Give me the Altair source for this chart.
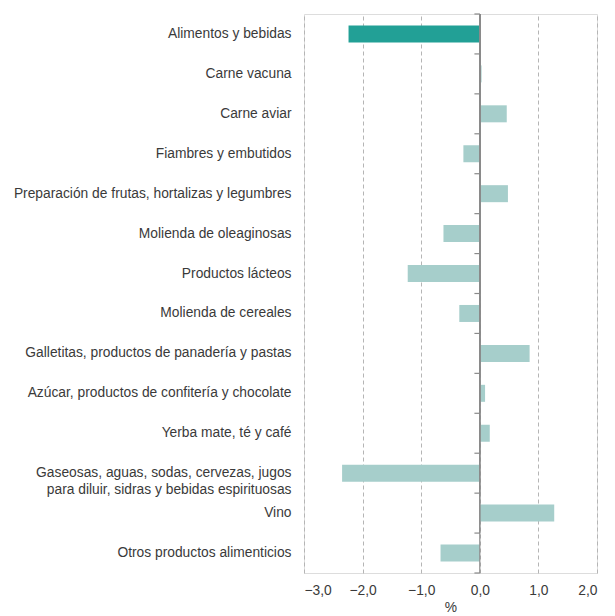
import altair as alt
import pandas as pd

categories = [
    "Alimentos y bebidas",
    "Carne vacuna",
    "Carne aviar",
    "Fiambres y embutidos",
    "Preparación de frutas, hortalizas y legumbres",
    "Molienda de oleaginosas",
    "Productos lácteos",
    "Molienda de cereales",
    "Galletitas, productos de panadería y pastas",
    "Azúcar, productos de confitería y chocolate",
    "Yerba mate, té y café",
    "Gaseosas, aguas, sodas, cervezas, jugos|para diluir, sidras y bebidas espirituosas",
    "Vino",
    "Otros productos alimenticios",
]
values = [-2.24, 0.03, 0.46, -0.28, 0.48, -0.62, -1.23, -0.35, 0.85, 0.09, 0.17, -2.35, 1.27, -0.67]
highlight = [True] + [False] * 13
x_ticks = [-3, -2, -1, 0, 1, 2]

df = pd.DataFrame({"cat": categories, "val": values, "hl": highlight})
n = len(categories)
bdf = pd.DataFrame({"b": list(range(n + 1))})
bdf["z0"] = 0.0
bdf["zm"] = -0.045

FONT = "Liberation Sans"
TXT = "#3a3a3a"
FS = 13.8

y_enc = alt.Y(
    "cat:N",
    sort=None,
    scale=alt.Scale(paddingInner=0, paddingOuter=0),
    axis=alt.Axis(
        title=None, domain=False, ticks=False, grid=False,
        labelExpr="split(datum.label, '|')",
        labelFontSize=FS, labelColor=TXT, labelFont=FONT,
        labelPadding=13, labelLimit=400, labelLineHeight=17,
    ),
)
x_scale = alt.Scale(domain=[-3, 2], nice=False)
x_enc = alt.X(
    "val:Q",
    scale=x_scale,
    axis=alt.Axis(
        values=x_ticks, title="%", grid=True, gridDash=[4, 3], gridColor="#b5b5b5",
        gridWidth=1, domain=False, ticks=False,
        labelExpr="replace(format(datum.value, '.1f'), '.', ',')",
        labelFontSize=FS, labelColor=TXT, labelFont=FONT, labelPadding=10,
        titleFont=FONT, titleFontSize=FS, titleColor=TXT, titleFontWeight="normal",
        titlePadding=4,
    ),
)

bars = alt.Chart(df).mark_bar(height=17).encode(
    y=y_enc,
    x=x_enc,
    color=alt.condition("datum.hl", alt.value("#22a096"), alt.value("#a6cecb")),
)

bscale = alt.Scale(domain=[0, n], reverse=True, nice=False, zero=False)

zero = alt.Chart(bdf).mark_rule(color="#8a8a8a", strokeWidth=1.2).encode(
    x=alt.X("z0:Q", scale=x_scale),
    y=alt.Y("b:Q", scale=bscale, axis=None),
    y2=alt.value(0),
)

bticks = alt.Chart(bdf).mark_tick(
    color="#8a8a8a", orient="horizontal", size=5.5, thickness=1.2, opacity=1
).encode(
    y=alt.Y("b:Q", scale=bscale, axis=None),
    x=alt.X("zm:Q", scale=x_scale),
)

chart = alt.layer(bars, alt.layer(zero, bticks)).resolve_scale(y="independent").properties(
    width=293, height=559
).configure_view(strokeWidth=0, stroke="transparent").configure(background="white")

chart.save("out.html", embed_options={"renderer": "svg", "actions": False})
